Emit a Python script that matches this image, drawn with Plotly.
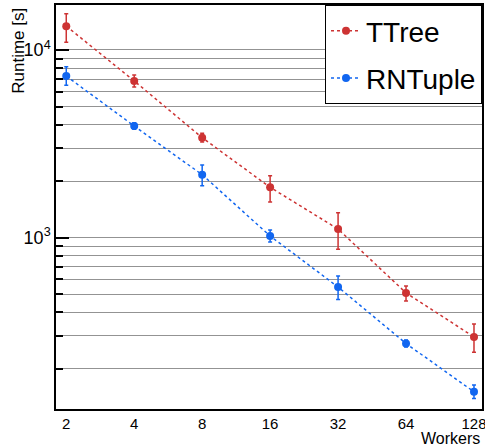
import plotly.graph_objects as go

workers = [2, 4, 8, 16, 32, 64, 128]
ttree = [13400, 6840, 3410, 1856, 1112, 508, 296]
ttree_hi = [15600, 7350, 3600, 2140, 1360, 553, 347]
ttree_lo = [11000, 6350, 3230, 1550, 867, 460, 245]
rntuple = [7260, 3935, 2166, 1021, 546, 273, 151]
rntuple_hi = [8150, 4100, 2440, 1100, 625, 285, 164]
rntuple_lo = [6490, 3780, 1893, 948, 468, 262, 139]

red = "#cd3333"
blue = "#1166f0"

def trace(name, y, hi, lo, color, grp):
    return go.Scatter(
        x=workers, y=y, name=name, mode="lines+markers", legendgroup=grp,
        line=dict(color=color, width=1.5, dash="dot"),
        marker=dict(color=color, size=8),
        error_y=dict(type="data", symmetric=False,
                     array=[h - v for h, v in zip(hi, y)],
                     arrayminus=[v - l for v, l in zip(y, lo)],
                     color=color, thickness=1.5, width=2),
    )

fig = go.Figure()
fig.add_trace(trace("TTree", ttree, ttree_hi, ttree_lo, red, "a"))
fig.add_trace(trace("RNTuple", rntuple, rntuple_hi, rntuple_lo, blue, "b"))

minor_vals = [200, 300, 400, 500, 600, 700, 800, 900,
              2000, 3000, 4000, 5000, 6000, 7000, 8000, 9000]

fig.update_layout(
    width=485, height=444,
    margin=dict(l=56, r=3, t=5, b=35, autoexpand=False),
    paper_bgcolor="white", plot_bgcolor="white",
    font=dict(family="Liberation Sans, Arial", color="black", size=14),
    showlegend=True,
    legend=dict(x=1, y=1, xanchor="right", yanchor="top",
                bgcolor="white", bordercolor="black", borderwidth=1,
                font=dict(size=28), itemwidth=30, tracegroupgap=8,
                traceorder="grouped"),
    xaxis=dict(
        type="log",
        range=[0.2556, 2.1427],
        tickvals=workers, ticktext=[str(w) for w in workers],
        ticks="", showgrid=False, zeroline=False,
        showline=True, linecolor="black", linewidth=1.5, mirror=True,
        tickfont=dict(size=15), ticklabeloverflow="allow",
        title=dict(text=""),
    ),
    yaxis=dict(
        type="log",
        range=[2.0874, 4.2397],
        tickvals=[1000, 10000],
        ticktext=["10<sup>3</sup>", "10<sup>4</sup>"],
        ticks="inside", ticklen=13, tickwidth=1.5, tickcolor="black",
        showgrid=True, gridcolor="#939393", gridwidth=1,
        zeroline=False,
        showline=True, linecolor="black", linewidth=1.5, mirror=True,
        tickfont=dict(size=18),
        minor=dict(tickvals=minor_vals, ticks="inside", ticklen=7,
                   tickwidth=1.5, tickcolor="black",
                   showgrid=True, gridcolor="#939393", gridwidth=1),
    ),
    annotations=[
        dict(text="Workers", xref="paper", yref="paper", x=1.0, y=-0.046,
             xanchor="right", yanchor="top", showarrow=False,
             font=dict(size=16)),
        dict(text="Runtime [s]", xref="paper", yref="paper", x=-0.088, y=0.997,
             xanchor="center", yanchor="top", textangle=-90, showarrow=False,
             font=dict(size=17)),
    ],
)

fig.write_html("out.html", config={"displayModeBar": False},
               post_script="document.body.style.margin='0';")
